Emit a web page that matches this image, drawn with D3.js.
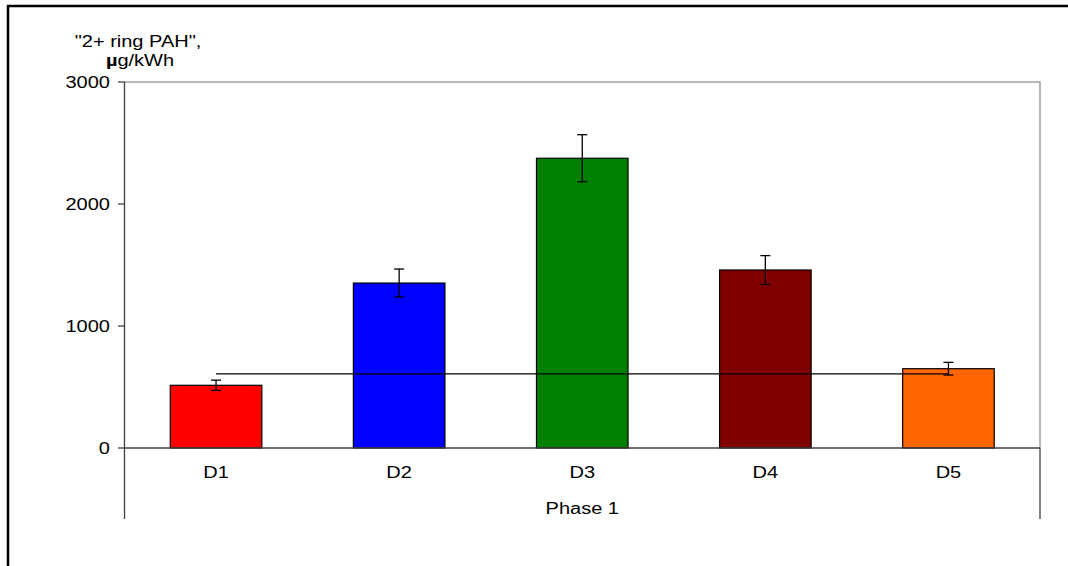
<!DOCTYPE html>
<html>
<head>
<meta charset="utf-8">
<script src="https://cdn.jsdelivr.net/npm/d3@7"></script>
<style>
  html, body { margin: 0; padding: 0; background: #fff; }
  svg { display: block; }
  text { font-family: "Liberation Sans", Arial, sans-serif; fill: #000; }
</style>
</head>
<body>
<svg id="chart" width="1068" height="566"></svg>
<script>
const categories = ["D1", "D2", "D3", "D4", "D5"];
const values = [514, 1352, 2375, 1459, 650];
const errors = [42, 115, 193, 118, 52];
const colors = ["#FF0000", "#0000FF", "#008000", "#800000", "#FF6600"];
const refValue = 607;
const yTicks = [0, 1000, 2000, 3000];
const groupLabel = "Phase 1";
const titleLines = ["\"2+ ring PAH\",", "g/kWh"];

const svg = d3.select("#chart");
const plot = { left: 124.5, right: 1040, top: 82, bottom: 448 };
const sx = 1.25; // horizontal stretch of text
const fs = "16px";

const x = d3.scaleBand().domain(categories).range([plot.left, plot.right]).paddingInner(0.5).paddingOuter(0.25);
const y = d3.scaleLinear().domain([0, 3000]).range([plot.bottom, plot.top]);

// outer border
svg.append("line").attr("x1", 8).attr("x2", 8).attr("y1", 5).attr("y2", 566).attr("stroke", "#000").attr("stroke-width", 2.5);
svg.append("line").attr("x1", 7).attr("x2", 1068).attr("y1", 6).attr("y2", 6).attr("stroke", "#000").attr("stroke-width", 2.5);

// plot area border (top and right)
svg.append("path")
  .attr("d", `M${plot.left},${plot.top}H${plot.right}V${plot.bottom}`)
  .attr("fill", "none").attr("stroke", "#a0a0a0").attr("stroke-width", 1.5);

function stretchedText(g, tx, ty, str, anchor) {
  return g.append("text")
    .attr("transform", `translate(${tx},${ty}) scale(${sx},1)`)
    .attr("text-anchor", anchor)
    .style("font-size", fs)
    .text(str);
}

// bars
svg.selectAll("rect.bar").data(categories).enter().append("rect")
  .attr("class", "bar")
  .attr("x", d => x(d))
  .attr("width", x.bandwidth())
  .attr("y", (d, i) => y(values[i]))
  .attr("height", (d, i) => y(0) - y(values[i]))
  .attr("fill", (d, i) => colors[i])
  .attr("stroke", "#000").attr("stroke-width", 1.2);

// reference line from first to last category centre
svg.append("line")
  .attr("x1", x(categories[0]) + x.bandwidth() / 2)
  .attr("x2", x(categories[categories.length - 1]) + x.bandwidth() / 2)
  .attr("y1", y(refValue)).attr("y2", y(refValue))
  .attr("stroke", "#000").attr("stroke-width", 1.3);

// error bars
const eb = svg.selectAll("g.err").data(categories).enter().append("g").attr("class", "err");
eb.append("line")
  .attr("x1", d => x(d) + x.bandwidth() / 2).attr("x2", d => x(d) + x.bandwidth() / 2)
  .attr("y1", (d, i) => y(values[i] + errors[i])).attr("y2", (d, i) => y(values[i] - errors[i]))
  .attr("stroke", "#000").attr("stroke-width", 1.3);
[1, -1].forEach(s => {
  eb.append("line")
    .attr("x1", d => x(d) + x.bandwidth() / 2 - 5).attr("x2", d => x(d) + x.bandwidth() / 2 + 5)
    .attr("y1", (d, i) => y(values[i] + s * errors[i])).attr("y2", (d, i) => y(values[i] + s * errors[i]))
    .attr("stroke", "#000").attr("stroke-width", 1.3);
});

// y axis
svg.append("line").attr("x1", plot.left).attr("x2", plot.left).attr("y1", plot.top).attr("y2", 519)
  .attr("stroke", "#404040").attr("stroke-width", 1.3);
yTicks.forEach(t => {
  svg.append("line").attr("x1", plot.left - 6.5).attr("x2", plot.left).attr("y1", y(t)).attr("y2", y(t))
    .attr("stroke", "#404040").attr("stroke-width", 1.3);
  stretchedText(svg, 110, y(t) + 6, d3.format("d")(t), "end");
});

// x axis
svg.append("line").attr("x1", plot.left).attr("x2", plot.right).attr("y1", y(0)).attr("y2", y(0))
  .attr("stroke", "#404040").attr("stroke-width", 1.3);
svg.append("line").attr("x1", plot.right).attr("x2", plot.right).attr("y1", y(0)).attr("y2", 519)
  .attr("stroke", "#404040").attr("stroke-width", 1.3);
categories.forEach(c => stretchedText(svg, x(c) + x.bandwidth() / 2, 478, c, "middle"));
stretchedText(svg, (plot.left + plot.right) / 2, 514, groupLabel, "middle");

// title
stretchedText(svg, 138, 47, titleLines[0], "middle");
const t2 = svg.append("text")
  .attr("transform", `translate(140,66) scale(${sx},1)`)
  .attr("text-anchor", "middle").style("font-size", fs);
t2.append("tspan").style("font-weight", "bold").text("\u00b5");
t2.append("tspan").text(titleLines[1]);
</script>
</body>
</html>
